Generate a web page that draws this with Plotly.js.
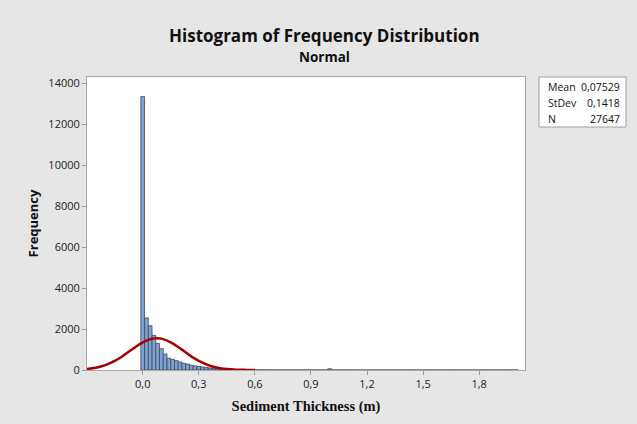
<!DOCTYPE html>
<html>
<head>
<meta charset="utf-8">
<script src="https://cdn.plot.ly/plotly-3.0.1.min.js"></script>
<style>html,body{margin:0;padding:0;background:#e6e6e6;}#chart{width:637px;height:424px;}</style>
</head>
<body>
<div id="chart"></div>
<script>
// Histogram bin midpoints (bin width 0.02)
var binWidth = 0.02;
var binMid = [];
for (var i = 0; i <= 100; i++) { binMid.push(+(i * binWidth).toFixed(2)); }

// Frequencies
var freq = [
  13350, 2540, 2160, 1690, 1300, 1040, 780, 570, 520, 460,
  390, 330, 290, 240, 200, 170, 150, 130, 100, 80,
  60, 45, 35, 25, 20, 15, 12, 10, 8, 7,
  6, 6, 5, 5, 4, 4, 4, 3, 3, 3,
  3, 3, 3, 3, 3, 3, 3, 2, 2, 2,
  60, 2, 2, 2, 2, 1, 1, 1, 1, 1,
  1, 1, 1, 1, 1, 1, 1, 1, 1, 1,
  1, 1, 1, 1, 1, 1, 1, 1, 1, 1,
  1, 1, 1, 1, 1, 1, 1, 1, 1, 1,
  1, 1, 1, 1, 1, 1, 1, 1, 1, 1, 1
];

// Fitted normal curve
var curveX = [-0.30, -0.25, -0.20, -0.15, -0.10, -0.05, 0.00, 0.05, 0.075, 0.10, 0.15, 0.20, 0.25, 0.30, 0.35, 0.40, 0.45, 0.50, 0.55, 0.60];
var curveY = [47, 112, 237, 441, 725, 1053, 1351, 1531, 1555, 1532, 1352, 1057, 728, 443, 238, 113, 47, 17, 6, 2];

var xTickVals = [0.0, 0.3, 0.6, 0.9, 1.2, 1.5, 1.8];
var xTickText = ["0,0", "0,3", "0,6", "0,9", "1,2", "1,5", "1,8"];
var yTickVals = [0, 2000, 4000, 6000, 8000, 10000, 12000, 14000];
var yTickText = ["0", "2000", "4000", "6000", "8000", "10000", "12000", "14000"];

var statLabels = ["Mean", "StDev", "N"];
var statValues = ["0,07529", "0,1418", "27647"];

var widths = binMid.map(function(){ return binWidth; });

var traces = [
  {
    type: 'bar', x: binMid, y: freq, width: widths,
    marker: {color: 'rgb(122,164,216)', line: {color: 'rgb(68,68,76)', width: 0.8}},
    hoverinfo: 'skip'
  },
  {
    type: 'scatter', mode: 'lines', x: curveX, y: curveY,
    line: {color: 'rgb(165,0,0)', width: 2.5, shape: 'spline', smoothing: 1},
    hoverinfo: 'skip'
  }
];

var sans = 'Open Sans, Noto Sans, sans-serif';
var annotations = [
  {text: '<b>Histogram of Frequency Distribution</b>', xref: 'paper', yref: 'paper', x: 0.543, y: 1.0 + (77 - 35) / 293, xanchor: 'center', yanchor: 'middle', showarrow: false, font: {family: sans, size: 17, color: '#111'}},
  {text: '<b>Normal</b>', xref: 'paper', yref: 'paper', x: 0.543, y: 1.0 + (77 - 57) / 293, xanchor: 'center', yanchor: 'middle', showarrow: false, font: {family: sans, size: 13.5, color: '#111'}}
];
var rowsY = [87, 103, 119];
for (var k = 0; k < statLabels.length; k++) {
  var yp = (370 - rowsY[k]) / 293;
  annotations.push({text: statLabels[k], xref: 'paper', yref: 'paper', x: (546 - 87) / 438, y: yp, xanchor: 'left', yanchor: 'middle', showarrow: false, font: {family: sans, size: 10.5, color: '#111'}});
  annotations.push({text: statValues[k], xref: 'paper', yref: 'paper', x: (622 - 87) / 438, y: yp, xanchor: 'right', yanchor: 'middle', showarrow: false, font: {family: sans, size: 10.5, color: '#111'}});
}

var layout = {
  width: 637, height: 424,
  paper_bgcolor: '#e6e6e6', plot_bgcolor: '#ffffff',
  margin: {l: 87, r: 112, t: 77, b: 54},
  showlegend: false,
  bargap: 0,
  font: {family: sans, color: '#222'},
  xaxis: {
    range: [-0.298, 2.045], tickmode: 'array', tickvals: xTickVals, ticktext: xTickText,
    ticks: 'outside', ticklen: 4, tickcolor: '#999', showgrid: false, zeroline: false,
    showline: true, linecolor: '#a8a8a8', linewidth: 1, mirror: true,
    tickfont: {family: sans, size: 11, color: '#222'},
    title: {text: '<b>Sediment Thickness (m)</b>', font: {family: 'Liberation Serif, Times New Roman, serif', size: 14.5, color: '#111'}, standoff: 10}
  },
  yaxis: {
    range: [0, 14308], tickmode: 'array', tickvals: yTickVals, ticktext: yTickText,
    ticks: 'outside', ticklen: 4, tickcolor: '#999', showgrid: false, zeroline: false,
    showline: true, linecolor: '#a8a8a8', linewidth: 1, mirror: true,
    tickfont: {family: sans, size: 11, color: '#222'},
    title: {text: '<b>Frequency</b>', font: {family: sans, size: 13, color: '#111'}, standoff: 6}
  },
  shapes: [
    {type: 'rect', xref: 'paper', yref: 'paper', x0: (539 - 87) / 438, x1: (626 - 87) / 438, y0: (370 - 127) / 293, y1: (370 - 77) / 293, fillcolor: '#ffffff', line: {color: '#a0a0a0', width: 1}, layer: 'below'}
  ],
  annotations: annotations
};

Plotly.newPlot('chart', traces, layout, {staticPlot: true, displayModeBar: false});
</script>
</body>
</html>
